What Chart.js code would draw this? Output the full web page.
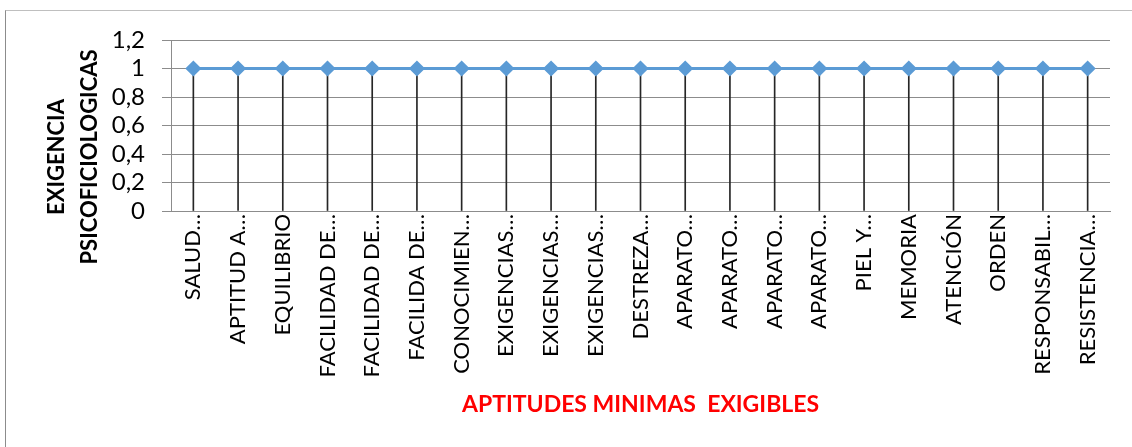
<!DOCTYPE html>
<html>
<head>
<meta charset="utf-8">
<script src="https://cdn.jsdelivr.net/npm/chart.js@4.4.1/dist/chart.umd.min.js"></script>
<style>
  body { margin: 0; background: #fff; overflow: hidden; }
  #frame { position: absolute; left: 5px; top: 10px; width: 1200px; height: 500px; border: 1px solid #bfbfbf; border-left-color: #8c8c8c; pointer-events: none; }
  canvas { position: absolute; left: 0; top: 0; }
</style>
</head>
<body>
<div id="frame"></div>
<canvas id="myChart" width="1132" height="447"></canvas>
<script>
// categories as shown (truncated by the original chart)
const categories = [
  'SALUD…', 'APTITUD A…', 'EQUILIBRIO', 'FACILIDAD DE…', 'FACILIDAD DE…',
  'FACILIDA DE…', 'CONOCIMIEN…', 'EXIGENCIAS…', 'EXIGENCIAS…', 'EXIGENCIAS…',
  'DESTREZA…', 'APARATO…', 'APARATO…', 'APARATO…', 'APARATO…',
  'PIEL Y…', 'MEMORIA', 'ATENCIÓN', 'ORDEN', 'RESPONSABIL…', 'RESISTENCIA…'
];
const exigencia = [1, 1, 1, 1, 1, 1, 1, 1, 1, 1, 1, 1, 1, 1, 1, 1, 1, 1, 1, 1, 1];
const yTitle = ['EXIGENCIA', 'PSICOFICIOLOGICAS'];
const xTitle = 'APTITUDES MINIMAS  EXIGIBLES';

const fontFamily = 'Lato, "Open Sans", sans-serif';

// y title sits a bit below the middle of the plot in the original, so draw it by hand
const yTitlePlugin = {
  id: 'yTitle',
  afterDraw(chart) {
    const c = chart.ctx;
    const area = chart.chartArea;
    const cy = area.bottom - 54;
    c.save();
    c.font = 'bold 22px ' + fontFamily;
    c.fillStyle = '#000';
    c.textAlign = 'center';
    c.textBaseline = 'middle';
    yTitle.forEach((line, i) => {
      c.save();
      c.translate(57 + i * 33, cy);
      c.rotate(-Math.PI / 2);
      c.fillText(line, 0, 0);
      c.restore();
    });
    c.restore();
  }
};

const ctx = document.getElementById('myChart').getContext('2d');
const myChart = new Chart(ctx, {
  type: 'line',
  data: {
    labels: categories,
    datasets: [{
      label: 'Exigencia',
      data: exigencia,
      borderColor: '#5b9bd5',
      backgroundColor: '#5b9bd5',
      borderWidth: 3,
      pointStyle: 'rectRot',
      pointRadius: 6,
      pointHoverRadius: 6,
      order: 0
    }, {
      // drop lines from each point to the axis
      type: 'bar',
      label: 'drop',
      data: exigencia,
      backgroundColor: '#262626',
      barThickness: 1,
      order: 1
    }]
  },
  options: {
    responsive: false,
    animation: false,
    layout: { padding: { top: 40, left: 0, right: 22, bottom: 0 } },
    plugins: {
      legend: { display: false },
      tooltip: { enabled: false }
    },
    scales: {
      x: {
        offset: true,
        grid: { display: false, drawTicks: false },
        border: { color: '#8c8c8c' },
        ticks: {
          minRotation: 90, maxRotation: 90, autoSkip: false, padding: 3,
          color: '#000', font: { family: fontFamily, size: 22 }
        },
        title: {
          display: true, text: xTitle, color: '#ff0000',
          font: { family: fontFamily, size: 23, weight: 'bold' },
          padding: { top: 0, bottom: 29 }
        },
        afterFit: function(scale) { scale.height = 236; }
      },
      y: {
        min: 0, max: 1.2,
        grid: { color: '#8c8c8c', tickLength: 9 },
        border: { color: '#8c8c8c' },
        ticks: {
          stepSize: 0.2, autoSkip: false, padding: 17, color: '#000',
          font: { family: fontFamily, size: 24 },
          callback: function(v) { return (Math.round(v * 10) / 10).toString().replace('.', ','); }
        },
        afterFit: function(scale) { scale.width = 171; }
      }
    }
  },
  plugins: [yTitlePlugin]
});
</script>
</body>
</html>
